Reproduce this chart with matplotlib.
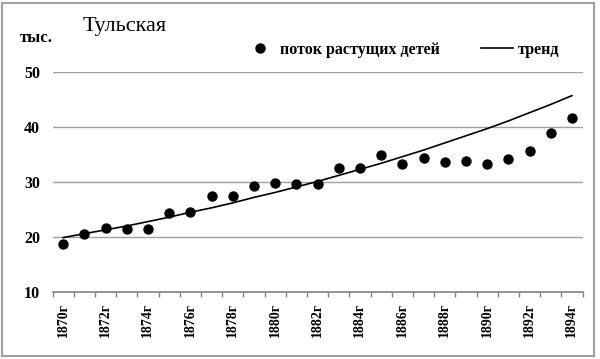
import numpy as np
import matplotlib
matplotlib.use('Agg')
from matplotlib import pyplot as plt
from matplotlib.lines import Line2D
from matplotlib.patches import Rectangle

years = list(range(1870, 1895))
year_labels = ['%dг' % y if (y - 1870) % 2 == 0 else '' for y in years]

# поток растущих детей, тыс.
flow = [18.7, 20.6, 21.6, 21.4, 21.4, 24.3, 24.6, 27.4, 27.4, 29.3,
        29.9, 29.7, 29.6, 32.5, 32.6, 34.9, 33.3, 34.3, 33.7, 33.9,
        33.3, 34.1, 35.7, 38.9, 41.7]

# тренд
trend = [19.9, 20.6, 21.3, 22.0, 22.8, 23.6, 24.5, 25.3, 26.2, 27.2,
         28.1, 29.1, 30.1, 31.2, 32.3, 33.4, 34.6, 35.8, 37.1, 38.4,
         39.7, 41.1, 42.6, 44.1, 45.7]

serif = 'Liberation Serif'

fig = plt.figure(figsize=(6, 3.59), dpi=100)
ax = fig.add_axes([52.5/600, 1 - 292/359, 530/600, 220/359])

x = np.arange(len(years))
ax.plot(x, trend, color='black', linewidth=1.2, zorder=3)
ax.scatter(x, flow, s=42, color='black', zorder=4)

ax.set_ylim(10, 50)
ax.set_xlim(-0.5, len(years) - 0.5)
ax.set_yticks([10, 20, 30, 40, 50])
for v in [20, 30, 40, 50]:
    ax.axhline(v, color='#a0a0a0', linewidth=1.0, zorder=1)

ax.set_xticks(x)
ax.set_xticklabels(year_labels, rotation=90, fontfamily=serif,
                   fontweight='bold', fontsize=10)
ax.set_xticks(np.arange(-0.5, len(years)), minor=True)
ax.tick_params(axis='x', which='major', length=0, pad=8)
ax.tick_params(axis='x', which='minor', length=3.5, width=1, color='#808080',
               direction='out')
ax.tick_params(axis='y', length=0, pad=9)
for lab in ax.get_yticklabels():
    lab.set_fontfamily(serif)
    lab.set_fontweight('bold')
    lab.set_fontsize(11.5)

for s in ['left', 'right', 'top']:
    ax.spines[s].set_visible(False)
ax.spines['bottom'].set_color('#808080')
ax.spines['bottom'].set_linewidth(1.2)

fig.text(83/600, 1 - 26/359, 'Тульская', fontfamily=serif, fontsize=16,
         va='center', ha='left')
fig.text(20/600, 1 - 38/359, 'тыс.', fontfamily=serif, fontsize=12,
         fontweight='bold', va='center', ha='left')

handles = [Line2D([], [], marker='o', linestyle='none', color='black', markersize=6.5),
           Line2D([], [], color='black', linewidth=1.2)]
fig.legend(handles, ['поток растущих детей', 'тренд'], loc='center left',
           bbox_to_anchor=(244/600, 1 - 50/359), ncol=2, frameon=False,
           prop={'family': serif, 'weight': 'bold', 'size': 11.5},
           handlelength=2.0, handletextpad=0.25, columnspacing=2.6,
           borderpad=0, borderaxespad=0)

fig.patches.append(Rectangle((2/600, 3/359), 592/600, 353/359, fill=False,
                             edgecolor='#a0a0a0', linewidth=1.5,
                             transform=fig.transFigure, figure=fig))

fig.savefig('out.png', dpi=100)
